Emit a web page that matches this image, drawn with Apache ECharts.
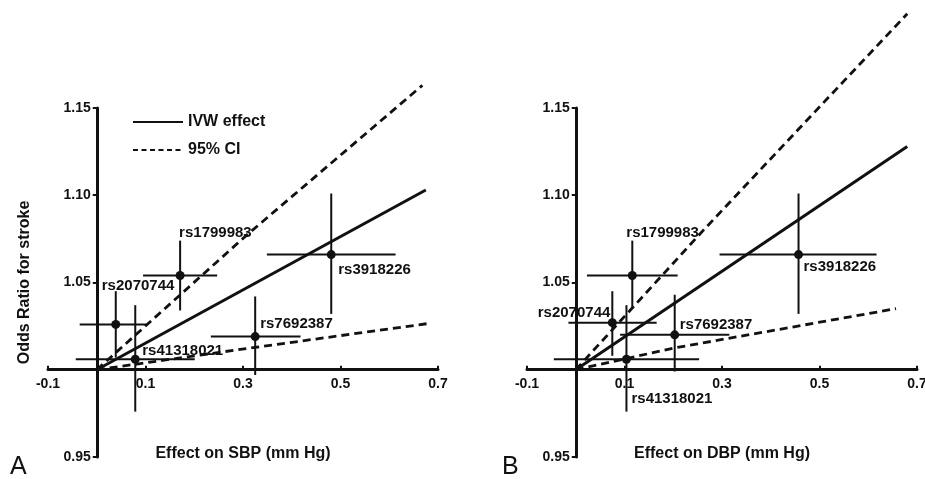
<!DOCTYPE html>
<html>
<head>
<meta charset="utf-8">
<script src="https://cdn.jsdelivr.net/npm/echarts@6/dist/echarts.min.js"></script>
<style>
  html, body { margin: 0; padding: 0; background: #fff; }
  #chart { width: 925px; height: 479px; }
</style>
</head>
<body>
<div id="chart"></div>
<script>
// ---- data ----
const snps = ['rs2070744', 'rs41318021', 'rs1799983', 'rs7692387', 'rs3918226'];
const xTicks = [-0.1, 0.1, 0.3, 0.5, 0.7];
const yTickLabels = [0.95, 1.05, 1.10, 1.15];
const yTicks = [0.95, 1.00, 1.05, 1.10, 1.15];

// Panel A: effect on SBP
const sbpX    = [0.039, 0.079, 0.171, 0.325, 0.481];
const sbpXLo  = [-0.035, -0.043, 0.095, 0.234, 0.349];
const sbpXHi  = [0.105, 0.201, 0.247, 0.418, 0.613];
const sbpOR   = [1.026, 1.006, 1.054, 1.019, 1.066];
const sbpORLo = [1.007, 0.976, 1.034, 0.997, 1.032];
const sbpORHi = [1.045, 1.037, 1.074, 1.042, 1.101];

const sbpIvwX = [0, 0.675];          const sbpIvwOR = [1.0, 1.103];
const sbpUpX  = [0, 0.307, 0.668];   const sbpUpOR  = [1.0, 1.077, 1.163];
const sbpLoX  = [0, 0.252, 0.680];   const sbpLoOR  = [1.0, 1.010, 1.0265];

// Panel B: effect on DBP
const dbpX    = [0.075, 0.104, 0.116, 0.203, 0.457];
const dbpXLo  = [-0.015, -0.045, 0.023, 0.091, 0.295];
const dbpXHi  = [0.166, 0.253, 0.209, 0.315, 0.617];
const dbpOR   = [1.027, 1.006, 1.054, 1.020, 1.066];
const dbpORLo = [1.008, 0.976, 1.035, 0.999, 1.032];
const dbpORHi = [1.045, 1.037, 1.074, 1.043, 1.101];

const dbpIvwX = [0, 0.680];          const dbpIvwOR = [1.0, 1.128];
const dbpUpX  = [0, 0.262, 0.680];   const dbpUpOR  = [1.0, 1.080, 1.204];
const dbpLoX  = [0, 0.2025, 0.657];  const dbpLoOR  = [1.0, 1.0125, 1.035];

// ---- label placement (style only: pixel offset from the point, alignment) ----
const sbpLabelStyle = [
  { dx: -14, dy: -39, align: 'left' },
  { dx: 7, dy: -8, align: 'left' },
  { dx: -1, dy: -43, align: 'left' },
  { dx: 5, dy: -13, align: 'left' },
  { dx: 7, dy: 15, align: 'left' }
];
const dbpLabelStyle = [
  { dx: -2, dy: -10, align: 'right' },
  { dx: 5, dy: 40, align: 'left' },
  { dx: -6, dy: -43, align: 'left' },
  { dx: 5, dy: -10, align: 'left' },
  { dx: 5, dy: 12, align: 'left' }
];

// ---- helpers ----
const INK = '#111';
const FONT = '"Liberation Sans", Arial, Helvetica, sans-serif';
const SYM = 9;
const toY = v => v - 1; // plot odds ratio relative to 1 so axes cross at OR = 1, effect = 0

function pairs(xs, ys) { return xs.map((x, i) => [x, toY(ys[i])]); }

function errData(x, xl, xh, y, yl, yh) {
  return x.map((v, i) => [v, toY(y[i]), xl[i], xh[i], toY(yl[i]), toY(yh[i])]);
}

function pointData(x, y, styles) {
  return x.map((v, i) => ({
    name: snps[i],
    value: [v, toY(y[i])],
    label: {
      show: true,
      position: [styles[i].dx + SYM / 2, styles[i].dy + SYM / 2],
      align: styles[i].align,
      verticalAlign: 'middle',
      color: INK, opacity: 1,
      fontFamily: FONT, fontWeight: 'bold', fontSize: 15
    }
  }));
}

function renderErr(params, api) {
  const x = api.value(0), y = api.value(1);
  const a = api.coord([api.value(2), y]);
  const b = api.coord([api.value(3), y]);
  const c = api.coord([x, api.value(4)]);
  const d = api.coord([x, api.value(5)]);
  const st = { stroke: INK, lineWidth: 2 };
  return {
    type: 'group',
    children: [
      { type: 'line', shape: { x1: a[0], y1: a[1], x2: b[0], y2: b[1] }, style: st },
      { type: 'line', shape: { x1: c[0], y1: c[1], x2: d[0], y2: d[1] }, style: st }
    ]
  };
}

function xAxisFor(gi, title) {
  return {
    type: 'value', gridIndex: gi, min: -0.1, max: 0.7, position: 'bottom', offset: 0,
    axisLine: { onZero: false, lineStyle: { color: INK, width: 3 } },
    axisTick: { show: true, inside: true, length: 4, customValues: xTicks, lineStyle: { color: INK, width: 2 } },
    axisLabel: { customValues: xTicks, margin: 7, color: INK, fontFamily: FONT, fontWeight: 'bold', fontSize: 14,
                 formatter: v => v.toFixed(1) },
    splitLine: { show: false },
    name: title, nameLocation: 'middle', nameGap: 76,
    nameTextStyle: { color: INK, fontFamily: FONT, fontWeight: 'bold', fontSize: 16 }
  };
}

function yAxisFor(gi, title) {
  return {
    type: 'value', gridIndex: gi, min: toY(0.95), max: toY(1.15), position: 'left', offset: 0,
    axisLine: { onZero: false, lineStyle: { color: INK, width: 3 } },
    axisTick: { show: true, inside: false, length: 4, customValues: yTicks.map(toY), lineStyle: { color: INK, width: 2 } },
    axisLabel: { customValues: yTickLabels.map(toY), margin: 6, color: INK, fontFamily: FONT, fontWeight: 'bold', fontSize: 14,
                 formatter: v => (v + 1).toFixed(2) },
    splitLine: { show: false },
    name: title, nameLocation: 'middle', nameGap: 64,
    nameTextStyle: { color: INK, fontFamily: FONT, fontWeight: 'bold', fontSize: 16 }
  };
}

function panelSeries(gi, ex, exl, exh, eor, eorl, eorh, labelStyles, ivwX, ivwOR, upX, upOR, loX, loOR) {
  const lineBase = { type: 'line', xAxisIndex: gi, yAxisIndex: gi, symbol: 'none', clip: false, silent: true, animation: false };
  return [
    Object.assign({}, lineBase, { name: 'IVW effect', data: pairs(ivwX, ivwOR), lineStyle: { color: INK, width: 3, type: 'solid' }, itemStyle: { color: INK } }),
    Object.assign({}, lineBase, { name: '95% CI', data: pairs(upX, upOR), lineStyle: { color: INK, width: 2.8, type: [8, 5] }, itemStyle: { color: INK } }),
    Object.assign({}, lineBase, { name: '95% CI', data: pairs(loX, loOR), lineStyle: { color: INK, width: 2.8, type: [8, 5] }, itemStyle: { color: INK } }),
    {
      type: 'custom', xAxisIndex: gi, yAxisIndex: gi, renderItem: renderErr, animation: false, silent: true,
      encode: { x: [0, 2, 3], y: [1, 4, 5] },
      data: errData(ex, exl, exh, eor, eorl, eorh)
    },
    {
      type: 'scatter', xAxisIndex: gi, yAxisIndex: gi, symbol: 'circle', symbolSize: SYM, animation: false, silent: true,
      itemStyle: { color: INK, opacity: 1 },
      label: { formatter: p => p.name, color: INK, fontFamily: FONT, fontWeight: 'bold', fontSize: 15 },
      data: pointData(ex, eor, labelStyles)
    }
  ];
}

const chart = echarts.init(document.getElementById('chart'), null, { renderer: 'canvas' });
chart.setOption({
  backgroundColor: '#fff',
  animation: false,
  title: [
    { text: 'A', left: 10, top: 455, padding: 0, textStyle: { color: INK, fontFamily: FONT, fontWeight: 'normal', fontSize: 25 } },
    { text: 'B', left: 502, top: 455, padding: 0, textStyle: { color: INK, fontFamily: FONT, fontWeight: 'normal', fontSize: 25 } }
  ],
  legend: {
    data: [
      { name: 'IVW effect' },
      { name: '95% CI', lineStyle: { type: [5, 3.5], width: 2 } }
    ],
    orient: 'vertical', left: 127, top: 109,
    itemWidth: 50, itemHeight: 14, itemGap: 12,
    selectedMode: false,
    itemStyle: { opacity: 0, color: 'rgba(0,0,0,0)', borderWidth: 0 },
    textStyle: { color: INK, fontFamily: FONT, fontWeight: 'bold', fontSize: 16 }
  },
  grid: [
    { left: 48, right: 487, top: 108, bottom: 22, containLabel: false, outerBoundsMode: 'none' },
    { left: 527, right: 8, top: 108, bottom: 22, containLabel: false, outerBoundsMode: 'none' }
  ],
  xAxis: [xAxisFor(0, 'Effect on SBP (mm Hg)'), xAxisFor(1, 'Effect on DBP (mm Hg)')],
  yAxis: [yAxisFor(0, 'Odds Ratio for stroke'), yAxisFor(1, '')],
  series: [].concat(
    panelSeries(0, sbpX, sbpXLo, sbpXHi, sbpOR, sbpORLo, sbpORHi, sbpLabelStyle, sbpIvwX, sbpIvwOR, sbpUpX, sbpUpOR, sbpLoX, sbpLoOR),
    panelSeries(1, dbpX, dbpXLo, dbpXHi, dbpOR, dbpORLo, dbpORHi, dbpLabelStyle, dbpIvwX, dbpIvwOR, dbpUpX, dbpUpOR, dbpLoX, dbpLoOR)
  )
});

// Move each axis (line, ticks, labels, name) so the two axes cross at effect = 0, OR = 1,
// using the library's own scales to find where those values sit.
const xOffsets = [], yOffsets = [];
for (let gi = 0; gi < 2; gi++) {
  const yBottom = chart.convertToPixel({ yAxisIndex: gi }, toY(0.95));
  const yZero = chart.convertToPixel({ yAxisIndex: gi }, 0);
  const xLeft = chart.convertToPixel({ xAxisIndex: gi }, -0.1);
  const xZero = chart.convertToPixel({ xAxisIndex: gi }, 0);
  xOffsets.push(yZero - yBottom);
  yOffsets.push(xLeft - xZero);
}
chart.setOption({
  xAxis: [{ offset: xOffsets[0] }, { offset: xOffsets[1] }],
  yAxis: [{ offset: yOffsets[0] }, { offset: yOffsets[1] }]
});
</script>
</body>
</html>
